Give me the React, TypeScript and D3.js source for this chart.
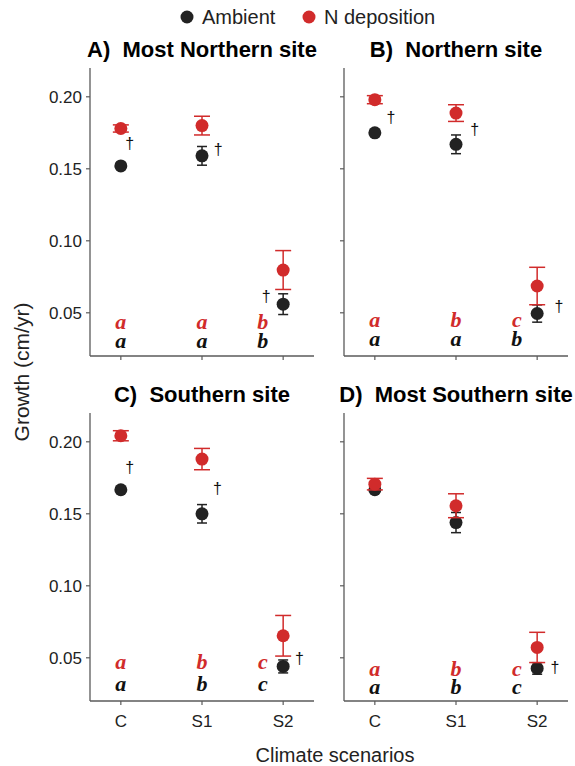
import React from "react";
import * as d3 from "d3";

// categorias y paneles
const categories = ["C", "S1", "S2"];
const panelTitles = [
  "A)  Most Northern site",
  "B)  Northern site",
  "C)  Southern site",
  "D)  Most Southern site",
];

// medias y errores (cm/yr), un array por panel
const ambientMean = [
  [0.152, 0.159, 0.056],
  [0.175, 0.167, 0.0495],
  [0.1667, 0.150, 0.044],
  [0.1667, 0.1439, 0.0426],
];
const ambientErr = [
  [0.002, 0.0065, 0.0072],
  [0.002, 0.0065, 0.006],
  [0.002, 0.0064, 0.0045],
  [0.002, 0.007, 0.004],
];
const ndepMean = [
  [0.178, 0.18, 0.0797],
  [0.198, 0.1887, 0.0686],
  [0.2042, 0.188, 0.0653],
  [0.1706, 0.1556, 0.0572],
];
const ndepErr = [
  [0.0025, 0.0065, 0.0135],
  [0.0028, 0.0058, 0.013],
  [0.0035, 0.0074, 0.0141],
  [0.004, 0.0083, 0.0105],
];

// letras de significancia
const ambientLetters = [
  ["a", "a", "b"],
  ["a", "a", "b"],
  ["a", "b", "c"],
  ["a", "b", "c"],
];
const ndepLetters = [
  ["a", "a", "b"],
  ["a", "b", "c"],
  ["a", "b", "c"],
  ["a", "b", "c"],
];
// altura (en unidades de y) de la linea base de las letras
const ambientLetterY = [0.0255, 0.0271, 0.0266, 0.0248];
const ndepLetterY = [0.0386, 0.0398, 0.0424, 0.0375];

// dagas: panel, categoria, valor y, desplazamiento en pasos
const daggers = [
  { panel: 0, cat: "C", y: 0.1675, dx: 0.11 },
  { panel: 0, cat: "S1", y: 0.1633, dx: 0.2 },
  { panel: 0, cat: "S2", y: 0.0608, dx: -0.21 },
  { panel: 1, cat: "C", y: 0.1855, dx: 0.2 },
  { panel: 1, cat: "S1", y: 0.1771, dx: 0.23 },
  { panel: 1, cat: "S2", y: 0.0539, dx: 0.27 },
  { panel: 2, cat: "C", y: 0.1817, dx: 0.11 },
  { panel: 2, cat: "S1", y: 0.1672, dx: 0.19 },
  { panel: 2, cat: "S2", y: 0.0491, dx: 0.2 },
  { panel: 3, cat: "S2", y: 0.0433, dx: 0.22 },
];

const yTicks = [0.05, 0.1, 0.15, 0.2];

const RED = "#d12b2b";
const BLACK = "#222222";
const AXIS = "#5a5a5a";
const SANS = "Liberation Sans, Arial, sans-serif";
const SERIF = "Liberation Serif, Times New Roman, serif";

const W = 575,
  H = 766;
const colLeft = [90, 344];
const rowTop = [68, 413];
const pw = 224,
  ph = 288;

const Panel = ({ idx }: { idx: number }) => {
  const col = idx % 2;
  const row = Math.floor(idx / 2);
  const x = d3.scalePoint().domain(categories).range([0, pw]).padding(0.38);
  const y = d3.scaleLinear().domain([0.02, 0.22]).range([ph, 0]);
  const step = x.step();

  const series = [
    { mean: ambientMean[idx], err: ambientErr[idx], color: BLACK, cap: 5 },
    { mean: ndepMean[idx], err: ndepErr[idx], color: RED, cap: 8 },
  ];
  const letterShift = (c: string) => (c === "S2" ? -0.25 * step : 0);

  return (
    <g transform={`translate(${colLeft[col]},${rowTop[row]})`}>
      <text
        x={pw / 2}
        y={-11}
        textAnchor="middle"
        fontFamily={SANS}
        fontWeight="bold"
        fontSize={22}
        style={{ whiteSpace: "pre" }}
      >
        {panelTitles[idx]}
      </text>

      {/* ejes */}
      <line x1={0} x2={0} y1={0} y2={ph} stroke={AXIS} strokeWidth={1.3} />
      <line x1={0} x2={pw} y1={ph} y2={ph} stroke={AXIS} strokeWidth={1.3} />
      {yTicks.map((t) => (
        <g key={t} transform={`translate(0,${y(t)})`}>
          <line x1={-4} x2={0} stroke={AXIS} strokeWidth={1.2} />
          {col === 0 && (
            <text
              x={-8}
              dy="0.35em"
              textAnchor="end"
              fontFamily={SANS}
              fontSize={17}
              fill="#222"
            >
              {d3.format(".2f")(t)}
            </text>
          )}
        </g>
      ))}
      {categories.map((c) => (
        <g key={c} transform={`translate(${x(c)},${ph})`}>
          <line y1={0} y2={4} stroke={AXIS} strokeWidth={1.2} />
          {row === 1 && (
            <text
              y={26}
              textAnchor="middle"
              fontFamily={SANS}
              fontSize={17}
              fill="#222"
            >
              {c}
            </text>
          )}
        </g>
      ))}

      {/* barras de error y puntos */}
      {series.map((s, si) => (
        <g key={si}>
          {categories.map((c, i) => {
            const cx = x(c) as number;
            const lo = y(s.mean[i] - s.err[i]);
            const hi = y(s.mean[i] + s.err[i]);
            return (
              <g key={c} stroke={s.color} strokeWidth={1.5}>
                <line x1={cx} x2={cx} y1={lo} y2={hi} />
                <line x1={cx - s.cap} x2={cx + s.cap} y1={lo} y2={lo} />
                <line x1={cx - s.cap} x2={cx + s.cap} y1={hi} y2={hi} />
                <circle
                  cx={cx}
                  cy={y(s.mean[i])}
                  r={6.5}
                  fill={s.color}
                  stroke="none"
                />
              </g>
            );
          })}
        </g>
      ))}

      {/* letras */}
      {categories.map((c, i) => (
        <g
          key={c}
          fontFamily={SERIF}
          fontStyle="italic"
          fontWeight="bold"
          fontSize={22}
          textAnchor="middle"
        >
          <text x={(x(c) as number) + letterShift(c)} y={y(ndepLetterY[idx])} fill={RED}>
            {ndepLetters[idx][i]}
          </text>
          <text x={(x(c) as number) + letterShift(c)} y={y(ambientLetterY[idx])} fill="#111">
            {ambientLetters[idx][i]}
          </text>
        </g>
      ))}

      {daggers
        .filter((d) => d.panel === idx)
        .map((d, k) => (
          <text
            key={k}
            x={(x(d.cat) as number) + d.dx * step}
            y={y(d.y)}
            dy="0.32em"
            textAnchor="middle"
            fontFamily={SANS}
            fontSize={16}
            fill="#111"
          >
            †
          </text>
        ))}
    </g>
  );
};

export default function App() {
  const legend = [
    { label: "Ambient", color: BLACK, x: 187 },
    { label: "N deposition", color: RED, x: 309 },
  ];
  return (
    <svg
      width={W}
      height={H}
      style={{ position: "absolute", left: 0, top: 0, background: "#fff" }}
    >
      {legend.map((l) => (
        <g key={l.label} transform={`translate(${l.x},17)`}>
          <circle r={6.5} fill={l.color} />
          <text x={15} dy="0.35em" fontFamily={SANS} fontSize={20} fill="#222">
            {l.label}
          </text>
        </g>
      ))}
      {[0, 1, 2, 3].map((i) => (
        <Panel key={i} idx={i} />
      ))}
      <text
        transform={`translate(29,372) rotate(-90)`}
        textAnchor="middle"
        fontFamily={SANS}
        fontSize={21}
        fill="#222"
      >
        Growth (cm/yr)
      </text>
      <text
        x={335}
        y={762}
        textAnchor="middle"
        fontFamily={SANS}
        fontSize={20}
        fill="#222"
      >
        Climate scenarios
      </text>
    </svg>
  );
}
